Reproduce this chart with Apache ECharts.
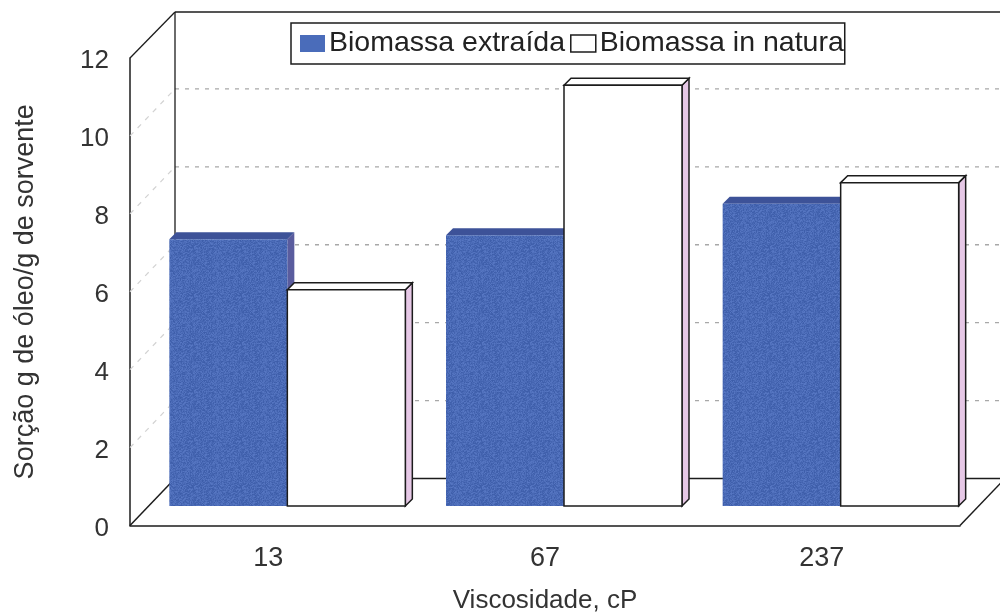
<!DOCTYPE html>
<html><head><meta charset="utf-8">
<style>html,body{margin:0;padding:0;background:#fff}#c{width:1000px;height:615px}</style>
<script src="https://cdn.jsdelivr.net/npm/echarts@6/dist/echarts.min.js"></script>
</head><body><div id="c"></div>
<script>
const categories = ['13', '67', '237'];
const extraida = [6.85, 6.95, 7.76];
const inNatura = [5.55, 10.8, 8.3];
const gridValues = [2, 4, 6, 8, 10];
const seriesNames = ['Biomassa extraída', 'Biomassa in natura'];
const yAxisTitle = 'Sorção g de óleo/g de sorvente';
const xAxisTitle = 'Viscosidade, cP';

const FONT = '"Liberation Sans", Arial, sans-serif';
const WALL_DX = 45, WALL_DY = 47;   // depth of the box
const BAR_DX = 19, BAR_DY = 19.5;   // bars stand this far into the box
const ROOF = 7;                     // bar depth
const BAR_W = 118;
const INK = '#1c1c1c';

// Speckled print texture of the blue bars (fixed, deterministic).
function speckle() {
  const size = 48, cv = document.createElement('canvas');
  cv.width = cv.height = size;
  const ctx = cv.getContext('2d');
  for (let y = 0; y < size; y++) for (let x = 0; x < size; x++) {
    const h = Math.abs(Math.sin(x * 12.9898 + y * 78.233) * 43758.5453) % 1;
    const d = Math.round((h - 0.5) * 26);
    ctx.fillStyle = `rgb(${74 + d},${106 + d},${182 + d})`;
    ctx.fillRect(x, y, 1, 1);
  }
  return {image: cv, repeat: 'repeat'};
}
const BLUE = speckle();

const poly = (points, fill, stroke, lw) => ({
  type: 'polygon', shape: {points},
  style: {fill, stroke: stroke || null, lineWidth: lw || 0}
});
const line = (x1, y1, x2, y2, stroke, lw, dash) => ({
  type: 'line', shape: {x1, y1, x2, y2},
  style: {stroke, lineWidth: lw, lineDash: dash || null, fill: null}
});

function barRenderer(side, look) {
  return function (params, api) {
    const top = api.coord([api.value(0), api.value(1)]);
    const base = api.coord([api.value(0), 0]);
    const xc = top[0] + BAR_DX;
    const x0 = side < 0 ? xc - BAR_W : xc;
    const x1 = x0 + BAR_W;
    const yT = top[1] - BAR_DY;
    const yB = base[1] - BAR_DY;
    const s = look.stroke, w = look.lw;
    return {type: 'group', children: [
      poly([[x1, yT], [x1 + ROOF, yT - ROOF], [x1 + ROOF, yB - ROOF], [x1, yB]], look.side, s, w),
      poly([[x0, yT], [x0 + ROOF, yT - ROOF], [x1 + ROOF, yT - ROOF], [x1, yT]], look.roof, s, w),
      poly([[x0, yT], [x1, yT], [x1, yB], [x0, yB]], look.face, s, w)
    ]};
  };
}

const chart = echarts.init(document.getElementById('c'), null, {renderer: 'canvas'});
chart.setOption({
  animation: false,
  backgroundColor: '#fff',
  textStyle: {fontFamily: FONT},
  grid: {left: 130, top: 58, width: 830, height: 467.5, outerBoundsMode: 'none'},
  legend: {
    left: 291, top: 23, padding: [6, 1, 6, 9], itemGap: 5,
    itemWidth: 25, itemHeight: 17, selectedMode: false,
    backgroundColor: '#fff', borderColor: INK, borderWidth: 1.5,
    textStyle: {fontFamily: FONT, fontSize: 28.5, color: '#222', padding: [0, 0, 0, -1]},
    data: [
      {name: seriesNames[0], icon: 'rect', itemStyle: {color: '#4a6cba', borderWidth: 0}},
      {name: seriesNames[1], icon: 'rect', itemStyle: {color: '#fff', borderColor: INK, borderWidth: 1.5}}
    ]
  },
  xAxis: {
    type: 'category', data: categories,
    axisLine: {show: true, lineStyle: {color: INK, width: 1.5}},
    axisTick: {show: false}, splitLine: {show: false},
    axisLabel: {fontFamily: FONT, fontSize: 27, color: '#333', margin: 20},
    name: xAxisTitle, nameLocation: 'middle', nameGap: 62,
    nameTextStyle: {fontFamily: FONT, fontSize: 26, color: '#333'}
  },
  yAxis: {
    type: 'value', min: 0, max: 12, interval: 2,
    axisLine: {show: true, lineStyle: {color: INK, width: 1.5}},
    axisTick: {show: false}, splitLine: {show: false},
    axisLabel: {
      margin: 21, formatter: '{a|{value}}',
      rich: {a: {fontFamily: FONT, fontSize: 26, color: '#333', padding: [6, 0, 0, 0]}}
    },
    name: yAxisTitle, nameLocation: 'middle', nameGap: 81, nameRotate: 90,
    nameTextStyle: {fontFamily: FONT, fontSize: 27, color: '#333', padding: [0, 0, 10, 0]}
  },
  series: [
    {
      type: 'custom', name: 'grid', z: 1, silent: true,
      data: gridValues.map(v => [0, v]), encode: {x: 0, y: 1},
      renderItem(params, api) {
        const g = params.coordSys;
        const y = api.coord([0, api.value(1)])[1];
        return {type: 'group', children: [
          line(g.x + WALL_DX, y - WALL_DY, g.x + g.width + WALL_DX, y - WALL_DY, '#a8a8a8', 1.3, [4, 6]),
          line(g.x, y, g.x + WALL_DX, y - WALL_DY, '#d2d2d2', 1.2, [5, 6])
        ]};
      }
    },
    {
      type: 'custom', name: 'frame', z: 2, silent: true,
      data: [[0, 12]], encode: {x: 0, y: 1},
      renderItem(params, api) {
        const g = params.coordSys;
        const L = g.x, R = g.x + g.width, T = api.coord([0, 12])[1], B = api.coord([0, 0])[1];
        return {type: 'group', children: [
          line(L + WALL_DX, T - WALL_DY + 1, L + WALL_DX, B - WALL_DY, INK, 1.3),
          line(L + WALL_DX, T - WALL_DY + 1, R + WALL_DX, T - WALL_DY + 1, INK, 1.5),
          line(L + WALL_DX, B - WALL_DY, R + WALL_DX, B - WALL_DY, INK, 1.5),
          line(L, T, L + WALL_DX, T - WALL_DY + 1, INK, 1.3),
          line(L, B, L + WALL_DX, B - WALL_DY, INK, 1.5),
          line(R, B, R + WALL_DX, B - WALL_DY, INK, 1.5)
        ]};
      }
    },
    {
      type: 'custom', name: seriesNames[0], z: 3,
      itemStyle: {color: '#4a6cba'},
      data: extraida.map((v, i) => [i, v]), encode: {x: 0, y: 1},
      renderItem: barRenderer(-1, {face: BLUE, roof: '#3d5298', side: '#5a5c9e', stroke: null, lw: 0})
    },
    {
      type: 'custom', name: seriesNames[1], z: 4,
      itemStyle: {color: '#fff', borderColor: INK},
      data: inNatura.map((v, i) => [i, v]), encode: {x: 0, y: 1},
      renderItem: barRenderer(1, {face: '#ffffff', roof: '#ffffff', side: '#e6c8e6', stroke: INK, lw: 1.5})
    }
  ]
});
</script></body></html>
